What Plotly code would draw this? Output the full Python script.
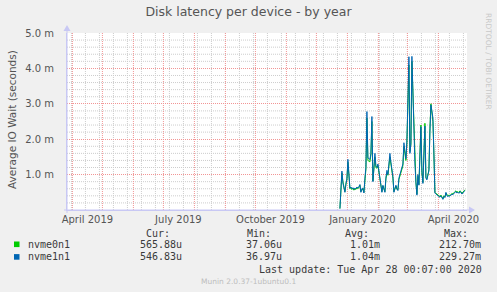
import pandas as pd
import plotly.graph_objects as go

# ---------------- data (values in milliseconds) ----------------
start_day = "2019-12-24 12:00"
nvme1n1 = [0.04, 0.7, 1.1, 0.76, 0.65, 0.5, 0.75, 0.85, 1.43, 0.8,
           0.62, 0.65, 0.6, 0.63, 0.58, 0.62, 0.6, 0.65, 0.62, 0.66,
           0.72, 0.5, 0.6, 0.62, 0.48, 0.9, 1.2, 2.78, 1.47, 1.45,
           1.43, 1.6, 2.64, 0.8, 1.2, 1.6, 1.25, 1.2, 1.3, 1.1,
           0.95, 0.6, 0.5, 0.7, 0.55, 0.5, 0.9, 1.12, 1.0, 1.3,
           1.6, 1.35, 1.2, 0.95, 0.5, 0.6, 0.7, 0.6, 0.55, 0.9,
           1.0, 1.1, 1.2, 1.3, 1.9, 1.6, 1.45, 1.95, 3.0, 4.33,
           1.6, 1.9, 4.34, 3.2, 2.6, 1.3, 0.8, 0.42, 1.0, 0.7,
           1.5, 2.35, 1.1, 0.75, 1.6, 2.37, 0.9, 0.85, 1.0, 1.1,
           2.2, 2.97, 2.8, 2.6, 1.6, 0.48, 0.45, 0.42, 0.4, 0.38,
           0.36, 0.4, 0.34, 0.3, 0.38, 0.35, 0.5, 0.4, 0.38, 0.4,
           0.39, 0.42, 0.45, 0.43, 0.48, 0.5, 0.52, 0.48, 0.5, 0.47,
           0.52, 0.5, 0.45, 0.48, 0.5, 0.55]
nvme0n1 = [0.04, 0.72, 1.05, 0.8, 0.68, 0.52, 0.72, 0.88, 1.35, 0.78,
           0.6, 0.63, 0.58, 0.62, 0.56, 0.6, 0.58, 0.63, 0.6, 0.64,
           0.7, 0.52, 0.58, 0.6, 0.5, 0.92, 1.15, 2.6, 1.4, 1.38,
           1.36, 1.55, 2.5, 0.82, 1.15, 1.5, 1.2, 1.18, 1.25, 1.05,
           0.92, 0.58, 0.52, 0.68, 0.57, 0.52, 0.88, 1.05, 0.98, 1.25,
           1.5, 1.3, 1.15, 0.9, 0.52, 0.58, 0.68, 0.58, 0.57, 0.86,
           0.98, 1.05, 1.15, 1.25, 1.8, 1.55, 1.4, 1.9, 3.1, 4.1,
           1.65, 1.85, 4.2, 3.3, 2.5, 1.35, 0.78, 0.45, 0.95, 0.72,
           1.45, 2.4, 1.05, 0.78, 1.55, 2.45, 0.92, 0.88, 0.98, 1.15,
           2.3, 3.0, 2.74, 2.5, 1.55, 0.5, 0.47, 0.44, 0.42, 0.4,
           0.38, 0.42, 0.36, 0.32, 0.4, 0.37, 0.48, 0.42, 0.4, 0.42,
           0.41, 0.44, 0.47, 0.45, 0.5, 0.52, 0.54, 0.5, 0.52, 0.49,
           0.54, 0.52, 0.47, 0.5, 0.52, 0.57]
dates = pd.date_range(start_day, periods=len(nvme1n1), freq="D")

x_range = ["2019-03-26 14:00", "2020-04-29 14:00"]
month_starts = [d.strftime("%Y-%m-%d") for d in pd.date_range("2019-04-01", "2020-04-01", freq="MS")]
biweekly = [d.strftime("%Y-%m-%d") for d in pd.date_range("2019-03-31", "2020-04-26", freq="14D")]
label_dates = ["2019-04-16", "2019-07-16", "2019-10-16", "2020-01-16", "2020-04-16"]
label_text = ["April 2019", "July 2019", "October 2019", "January 2020", "April 2020"]
y_major = [1, 2, 3, 4, 5]
y_text = ["1.0 m", "2.0 m", "3.0 m", "4.0 m", "5.0 m"]
y_minor = [0.2, 0.4, 0.6, 0.8, 1.2, 1.4, 1.6, 1.8, 2.2, 2.4, 2.6, 2.8,
           3.2, 3.4, 3.6, 3.8, 4.2, 4.4, 4.6, 4.8]

series_names = ["nvme0n1", "nvme1n1"]
series_colors = ["#00CC00", "#0066B3"]
cur_vals = ["565.88u", "546.83u"]
min_vals = ["37.06u", "36.97u"]
avg_vals = ["1.01m", "1.04m"]
max_vals = ["212.70m", "229.27m"]

# ---------------- layout helpers ----------------
W, H = 497, 292
L, R, T, B = 67, 467, 33, 210


def px(x):
    return (x - L) / (R - L)


def py(y):
    return (B - y) / (B - T)


RED = "#F29595"
GRAY = "#CDCDCD"
AXIS = "#C8C8F4"
TXT = "#555555"
LEG = "#3A3A3A"
MONO = "DejaVu Sans Mono"
SANS = "DejaVu Sans"
DOT = "1px,1px"

fig = go.Figure()
for name, col, vals in zip(series_names, series_colors, [nvme0n1, nvme1n1]):
    fig.add_trace(go.Scatter(x=dates, y=vals, mode="lines", name=name,
                             line=dict(color=col, width=1), hoverinfo="skip"))

fig.update_layout(
    width=W, height=H,
    margin=dict(l=L, r=W - R, t=T, b=H - B),
    paper_bgcolor="#F0F0F0", plot_bgcolor="#FFFFFF",
    showlegend=False,
    title=dict(text="Disk latency per device - by year", x=0.5, xref="container",
               xanchor="center", y=1 - 12 / H, yref="container", yanchor="middle",
               font=dict(family=SANS, size=12.5, color=TXT)),
    xaxis=dict(type="date", range=x_range, tickmode="array", tickvals=label_dates,
               ticktext=label_text, ticks="", showgrid=False, zeroline=False,
               showline=True, linecolor=AXIS, linewidth=1, automargin=False,
               tickfont=dict(family=SANS, size=10, color=TXT)),
    yaxis=dict(range=[0, 5], tickmode="array", tickvals=y_major, ticktext=y_text,
               showgrid=True, gridcolor=RED, griddash=DOT, gridwidth=1,
               zeroline=False, showline=True, linecolor=AXIS, linewidth=1,
               ticks="outside", ticklen=10, tickcolor="rgba(0,0,0,0)", automargin=False,
               tickfont=dict(family=SANS, size=10, color=TXT)),
)

shapes = []
# minor grid (gray dotted)
for d in biweekly:
    shapes.append(dict(type="line", xref="x", yref="paper", x0=d, x1=d, y0=0, y1=1,
                       layer="between", line=dict(color=GRAY, width=1, dash=DOT)))
for v in y_minor:
    shapes.append(dict(type="line", xref="paper", yref="y", x0=0, x1=1, y0=v, y1=v,
                       layer="between", line=dict(color=GRAY, width=1, dash=DOT)))
# major vertical grid (red dotted) at month starts
for m in month_starts:
    shapes.append(dict(type="line", xref="x", yref="paper", x0=m, x1=m, y0=0, y1=1,
                       layer="between", line=dict(color=RED, width=1, dash=DOT)))

ann = []
# y axis title
ann.append(dict(text="Average IO Wait (seconds)", x=px(12), y=py(119), xref="paper",
                yref="paper", showarrow=False, textangle=-90, xanchor="center",
                yanchor="middle", font=dict(family=SANS, size=10.5, color=TXT)))
# rrdtool watermark
ann.append(dict(text="RRDTOOL / TOBI OETIKER", x=px(489), y=py(61), xref="paper",
                yref="paper", showarrow=False, textangle=90, xanchor="center",
                yanchor="middle", font=dict(family=SANS, size=7.5, color="#C8C8C8")))

# legend header
for hdr, xr in zip(["Cur:", "Min:", "Avg:", "Max:"], [172, 273, 371, 470]):
    ann.append(dict(text=hdr, x=px(xr), y=py(233), xref="paper", yref="paper",
                    showarrow=False, xanchor="right", yanchor="middle",
                    font=dict(family=MONO, size=10, color=LEG)))
for i, (name, col) in enumerate(zip(series_names, series_colors)):
    yc = 244.3 + i * 12.6
    shapes.append(dict(type="rect", xref="paper", yref="paper", x0=px(14), x1=px(19.5),
                       y0=py(yc - 2.8), y1=py(yc + 2.8), fillcolor=col,
                       line=dict(width=0)))
    ann.append(dict(text=name, x=px(26), y=py(yc), xref="paper", yref="paper",
                    showarrow=False, xanchor="left", yanchor="middle",
                    font=dict(family=MONO, size=10, color=LEG)))
    for val, xr in zip([cur_vals[i], min_vals[i], avg_vals[i], max_vals[i]],
                       [184, 284, 382, 483]):
        ann.append(dict(text=val, x=px(xr), y=py(yc), xref="paper", yref="paper",
                        showarrow=False, xanchor="right", yanchor="middle",
                        font=dict(family=MONO, size=10, color=LEG)))
ann.append(dict(text="Last update: Tue Apr 28 00:07:00 2020", x=px(484), y=py(269),
                xref="paper", yref="paper", showarrow=False, xanchor="right",
                yanchor="middle", font=dict(family=MONO, size=10, color=LEG)))
ann.append(dict(text="Munin 2.0.37-1ubuntu0.1", x=px(248), y=py(281), xref="paper",
                yref="paper", showarrow=False, xanchor="center", yanchor="middle",
                font=dict(family=SANS, size=7.5, color="#BDBDBD")))

# axis extensions and arrows
shapes.append(dict(type="line", xref="paper", yref="paper", x0=px(L), x1=px(L),
                   y0=py(B + 3), y1=py(28), line=dict(color=AXIS, width=1)))
shapes.append(dict(type="line", xref="paper", yref="paper", x0=px(L - 3), x1=px(472),
                   y0=py(B), y1=py(B), line=dict(color=AXIS, width=1)))
shapes.append(dict(type="path", xref="paper", yref="paper",
                   path=f"M {px(L - 3.5)} {py(31)} L {px(L + 3.5)} {py(31)} L {px(L)} {py(25)} Z",
                   fillcolor=AXIS, line=dict(width=0)))
shapes.append(dict(type="path", xref="paper", yref="paper",
                   path=f"M {px(469)} {py(B - 3.5)} L {px(469)} {py(B + 3.5)} L {px(475)} {py(B)} Z",
                   fillcolor=AXIS, line=dict(width=0)))

fig.update_layout(annotations=ann, shapes=shapes)
fig.write_html("out.html")
